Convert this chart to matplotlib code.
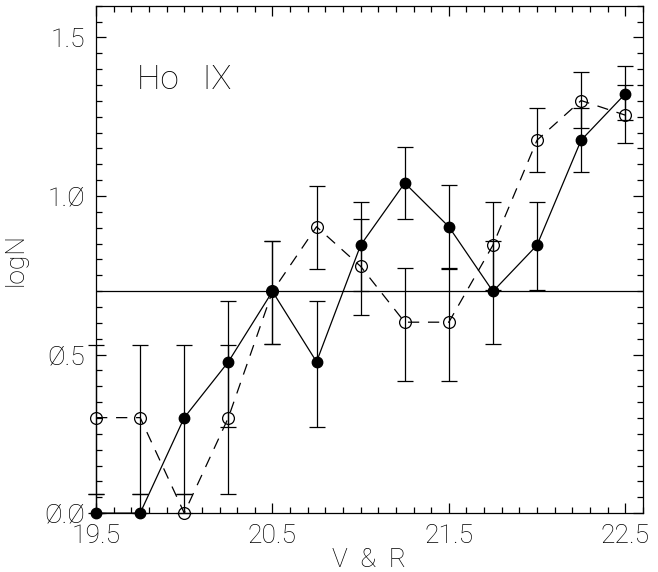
import matplotlib
matplotlib.use("Agg")
import matplotlib.pyplot as plt
from matplotlib.ticker import MultipleLocator, FixedLocator, FixedFormatter

# magnitude bins (V & R)
mag = [19.5, 19.75, 20.0, 20.25, 20.5, 20.75, 21.0, 21.25, 21.5, 21.75, 22.0, 22.25, 22.5]

# filled circles, solid line
logn_v = [0.0, 0.0, 0.301, 0.477, 0.699, 0.477, 0.845, 1.041, 0.903, 0.699, 0.845, 1.176, 1.322]
lo_v = [0.0, 0.0, 0.06, 0.27, 0.532, 0.27, 0.70, 0.927, 0.771, 0.532, 0.704, 1.076, 1.239]
hi_v = [0.06, 0.06, 0.53, 0.669, 0.857, 0.669, 0.982, 1.156, 1.034, 0.857, 0.982, 1.277, 1.41]

# open circles, dashed line
logn_r = [0.301, 0.301, 0.0, 0.301, 0.699, 0.903, 0.778, 0.602, 0.602, 0.845, 1.176, 1.301, 1.255]
lo_r = [0.06, 0.06, 0.0, 0.06, 0.532, 0.771, 0.624, 0.417, 0.417, 0.704, 1.077, 1.213, 1.166]
hi_r = [0.53, 0.53, 0.06, 0.53, 0.857, 1.032, 0.927, 0.774, 0.774, 0.982, 1.277, 1.392, 1.35]

ref_level = 0.699

xticks = [19.5, 20.5, 21.5, 22.5]
xticklabels = ["19.5", "20.5", "21.5", "22.5"]
yticks = [0.0, 0.5, 1.0, 1.5]
yticklabels = ["\u00d8.\u00d8", "\u00d8.5", "1.\u00d8", "1.5"]

plt.rcParams['font.family'] = ['Roboto', 'DejaVu Sans']
plt.rcParams['font.weight'] = 'light'
plt.rcParams['axes.labelweight'] = 'light'

fig = plt.figure(figsize=(6.58, 5.72), dpi=100)
ax = fig.add_axes([0.146, 0.103, 0.831, 0.887])

lw = 0.9
err_v = [[v - l for v, l in zip(logn_v, lo_v)], [h - v for v, h in zip(logn_v, hi_v)]]
err_r = [[v - l for v, l in zip(logn_r, lo_r)], [h - v for v, h in zip(logn_r, hi_r)]]

ax.axhline(ref_level, color='black', lw=lw)

eb1 = ax.errorbar(mag, logn_v, yerr=err_v, fmt='o-', color='black', ms=7.5,
                  lw=lw, elinewidth=lw, capsize=6, capthick=lw, clip_on=False, zorder=3)
eb2 = ax.errorbar(mag, logn_r, yerr=err_r, fmt='o', color='black', ms=8.5,
                  mfc='none', mew=lw, elinewidth=lw, capsize=6, capthick=lw,
                  clip_on=False, zorder=3)
ax.plot(mag, logn_r, color='black', lw=lw, dashes=(9, 7), zorder=2)
for art in [eb1, eb2]:
    for c in art.get_children():
        c.set_clip_on(False)

ax.set_xlim(19.5, 22.6)
ax.set_ylim(0.0, 1.6)

ax.xaxis.set_major_locator(FixedLocator(xticks))
ax.xaxis.set_major_formatter(FixedFormatter(xticklabels))
ax.xaxis.set_minor_locator(MultipleLocator(0.1))
ax.yaxis.set_major_locator(FixedLocator(yticks))
ax.yaxis.set_major_formatter(FixedFormatter(yticklabels))
ax.yaxis.set_minor_locator(MultipleLocator(0.05))

ax.tick_params(which='both', direction='in', top=True, right=True, width=lw,
               labelsize=19)
ax.tick_params(which='major', length=7, pad=8)
ax.tick_params(which='minor', length=4.5)
for s in ax.spines.values():
    s.set_linewidth(lw)

ax.set_xlabel("V  &  R", fontsize=19, labelpad=0, fontweight='light')
ax.set_ylabel("logN", fontsize=19, labelpad=12, fontweight='light')
ax.text(19.73, 1.366, "Ho   IX", fontsize=24, va='center', ha='left', fontweight='light')

fig.savefig("out.png", dpi=100)
